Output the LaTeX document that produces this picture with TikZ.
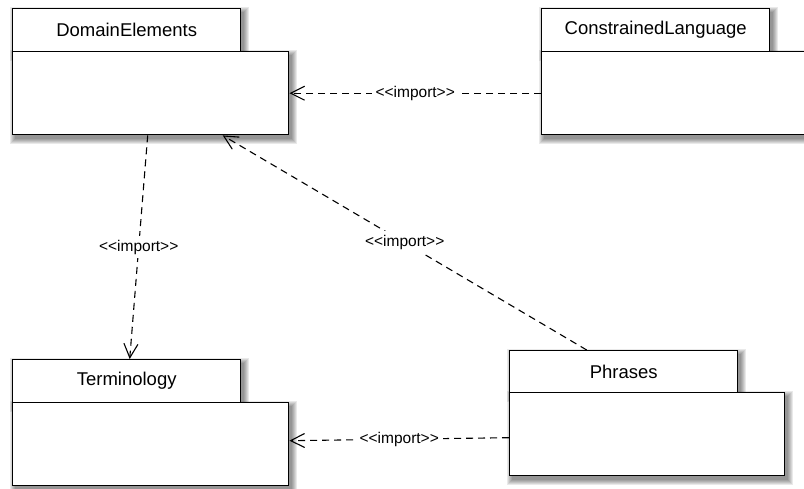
\documentclass[tikz,border=0pt]{standalone}
\usepackage{fontspec}
\setmainfont{Liberation Sans}
\usetikzlibrary{arrows.meta,backgrounds}
\begin{document}
\begin{tikzpicture}[x=1pt,y=-1pt,
  pkg/.style={draw=black,line width=1.4pt,fill=white,inner sep=0pt,anchor=north west},
  tabbox/.style={pkg,minimum width=228pt,minimum height=43pt,font=\fontsize{18.5}{22}\selectfont},
  bodybox/.style={pkg,minimum height=83pt},
  shade/.style={fill=black,opacity=0.085},
  imp/.style={line width=1.1pt,dash pattern=on 7pt off 5pt,
    -{Straight Barb[length=14pt,width=14pt,line width=1.1pt]}},
  lbl/.style={fill=white,inner sep=4pt,font=\fontsize{15.5}{17}\selectfont}
]
\useasboundingbox (0,0) rectangle (804,489);
% DomainElements
\node[tabbox] (de-tab) at (12,8) {DomainElements};
\node[bodybox,minimum width=276pt] (de-body) at (12,51) {};
% ConstrainedLanguage
\node[tabbox] (cl-tab) at (541,8) {ConstrainedLanguage};
\node[bodybox,minimum width=276pt] (cl-body) at (541,51) {};
% Terminology
\node[tabbox] (te-tab) at (12,359) {Terminology};
\node[bodybox,minimum width=276pt] (te-body) at (12,402) {};
% Phrases
\node[tabbox,minimum height=42pt] (ph-tab) at (509,350) {Phrases};
\node[bodybox,minimum width=275pt] (ph-body) at (509,392) {};
% soft shadows
\begin{scope}[on background layer]
\foreach \n in {de-tab,de-body,cl-tab,cl-body,te-tab,te-body,ph-tab,ph-body}{
  \foreach \r in {0,1,2,3,4,5}{
    \fill[shade] ([xshift=3pt-\r pt,yshift=-4pt+\r pt]\n.north west)
      rectangle ([xshift=3pt+\r pt,yshift=-4pt-\r pt]\n.south east);
  }
}
\end{scope}
% connectors
\draw[imp] (cl-body.west) -- node[lbl] {<{}<import>{}>} (de-body.east);
\draw[imp] ([xshift=-3pt]de-body.south) -- node[lbl] {<{}<import>{}>} ([xshift=3pt]te-tab.north);
\draw[imp] ([xshift=-37pt]ph-tab.north) -- node[lbl] {<{}<import>{}>} ([xshift=72pt]de-body.south);
\draw[imp] ([yshift=-3.5pt]ph-body.west) -- node[lbl] {<{}<import>{}>} ([yshift=3.5pt]te-body.east);
\end{tikzpicture}
\end{document}
